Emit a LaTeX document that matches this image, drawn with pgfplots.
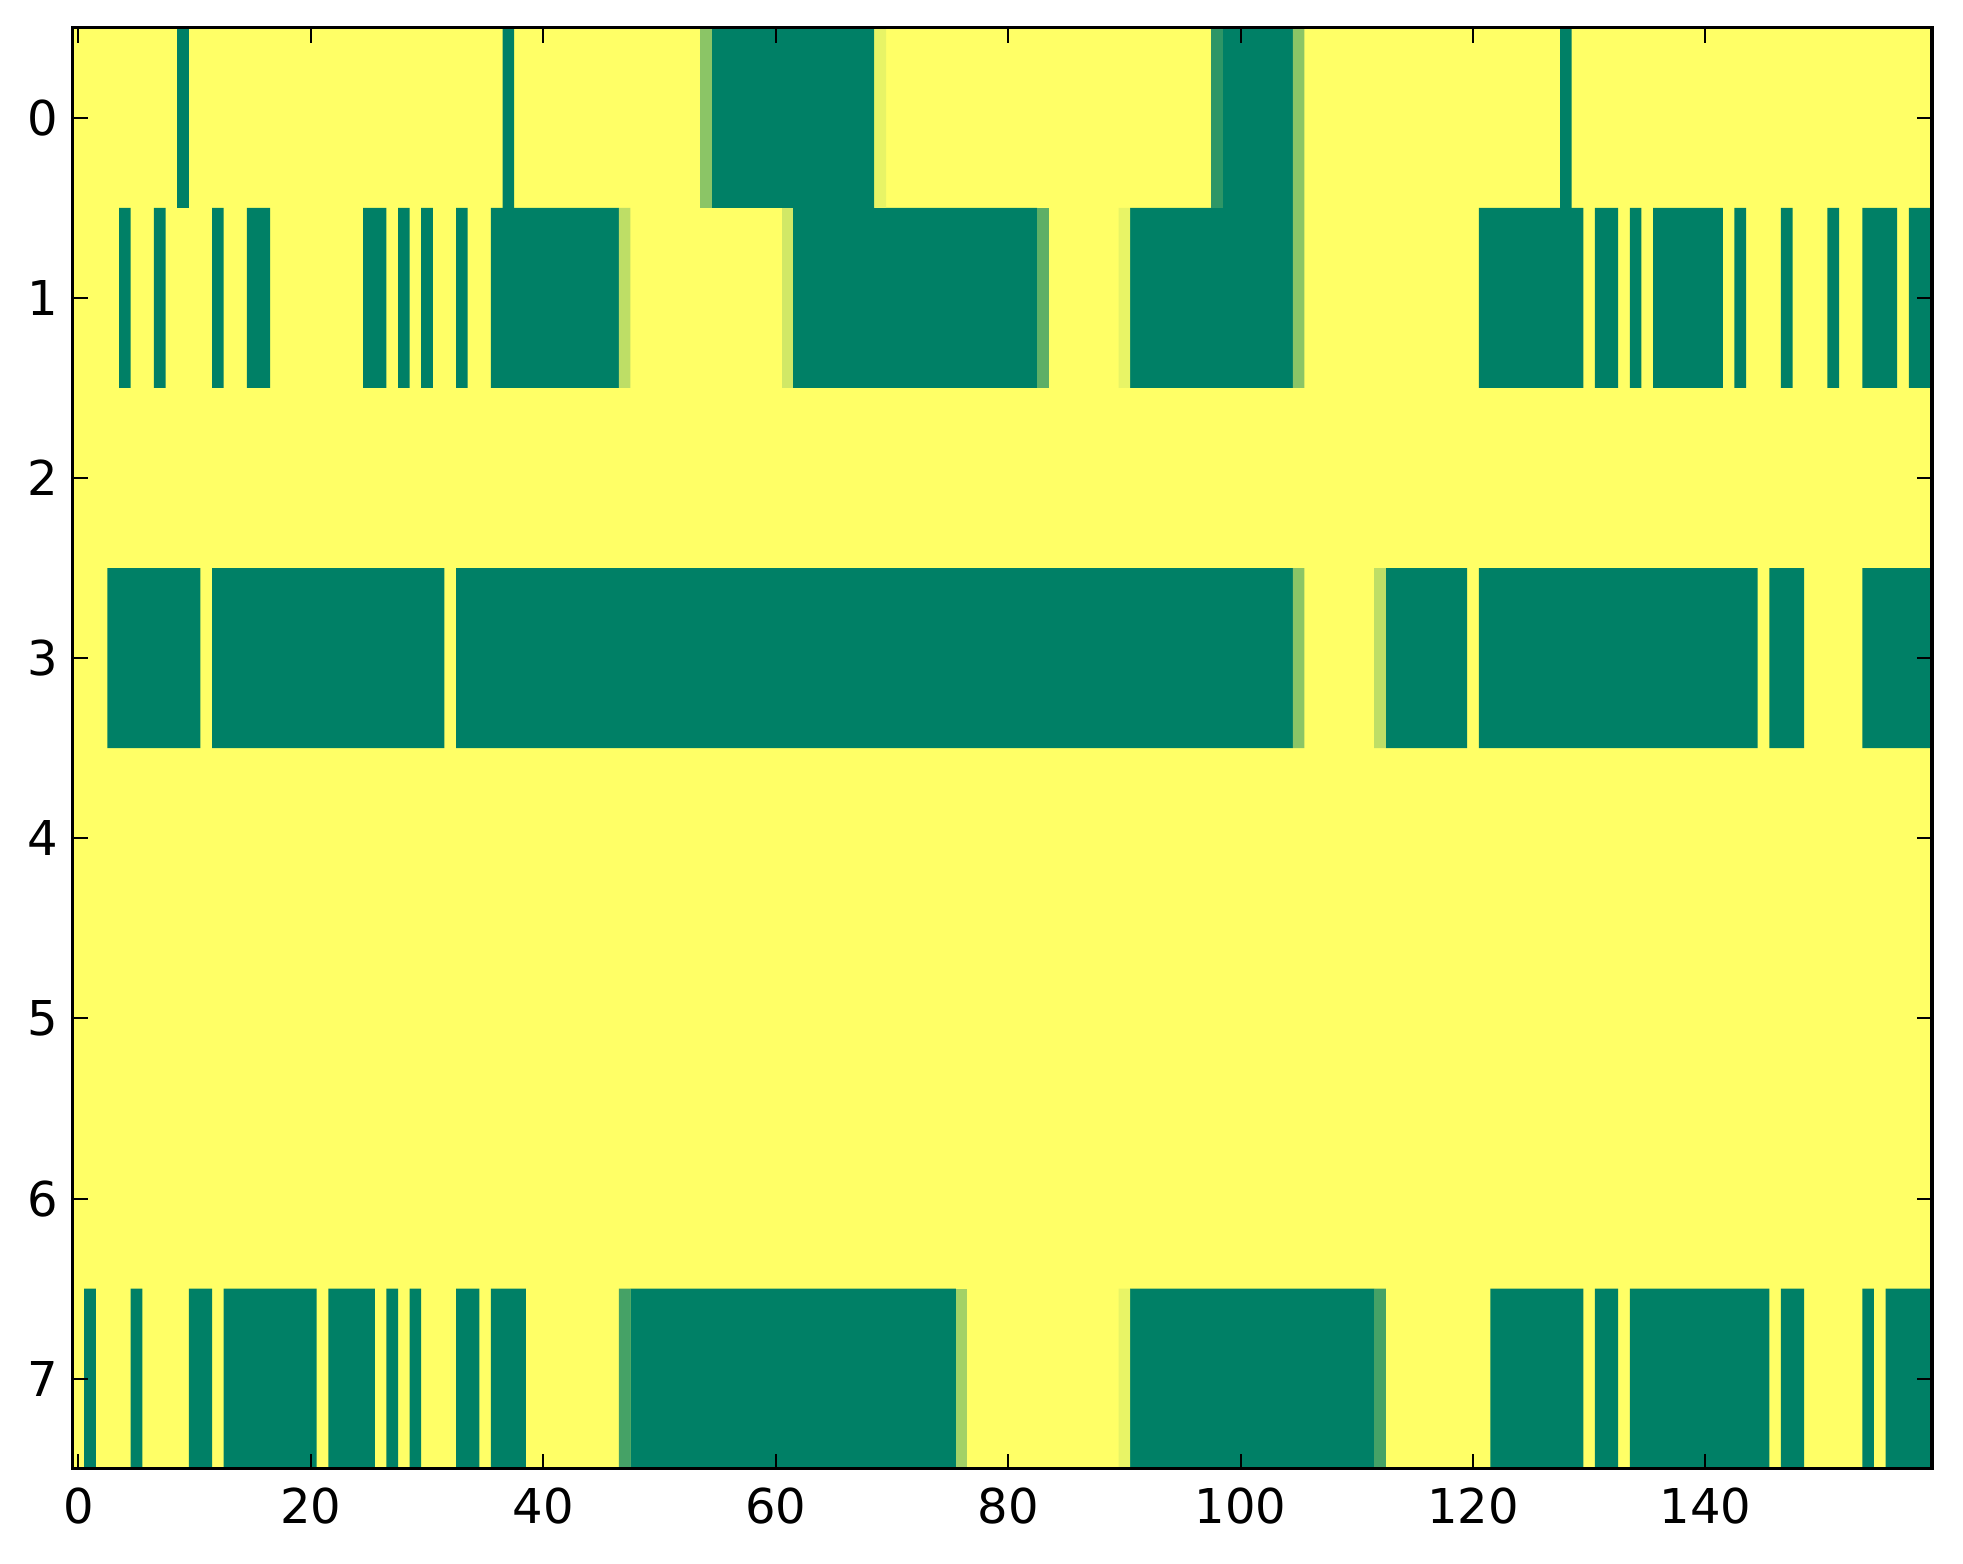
\documentclass[border=0pt]{standalone}
\usepackage{pgfplots}
\pgfplotsset{compat=1.18}
\usepackage{fontspec}
\setmainfont{DejaVu Sans}
\usetikzlibrary{calc}
\definecolor{sgreen}{rgb}{0,0.5,0.4}
\definecolor{syellow}{rgb}{1,1,0.4}
\colorlet{v18}{syellow!18!sgreen}
\colorlet{v27}{syellow!27!sgreen}
\colorlet{v37}{syellow!37!sgreen}
\colorlet{v545}{syellow!54.5!sgreen}
\colorlet{v64}{syellow!64!sgreen}
\colorlet{v745}{syellow!74.5!sgreen}
\colorlet{v82}{syellow!82!sgreen}
\colorlet{v91}{syellow!91!sgreen}
\begin{document}
\begin{tikzpicture}
\begin{axis}[
  name=ax,
  scale only axis, width=464.75pt, height=360.25pt,
  xmin=-0.5, xmax=159.5, ymin=-0.5, ymax=7.5, y dir=reverse,
  xtick={0,20,...,140}, ytick={0,1,...,7},
  tick align=inside, major tick length=3.75pt,
  axis line style={line width=0.8pt},
  tick style={line width=0.5pt, black},
  axis on top,
  ticklabel style={font=\fontsize{12}{14}\selectfont},
  xticklabel style={yshift=-1.25pt},
  /pgf/number format/assume math mode=true,
  unbounded coords=jump,
]
% value 1 (whole image extent)
\addplot[fill=syellow, draw=none, forget plot] coordinates {(-0.5,-0.5) (159.5,-0.5) (159.5,7.5) (-0.5,7.5)} --cycle;
% row 0, value 0
\addplot[fill=sgreen, draw=none, forget plot] coordinates {
(8.5,-0.5) (9.5,-0.5) (9.5,0.5) (8.5,0.5) (nan,nan)
(36.5,-0.5) (37.5,-0.5) (37.5,0.5) (36.5,0.5) (nan,nan)
(54.5,-0.5) (68.5,-0.5) (68.5,0.5) (54.5,0.5) (nan,nan)
(98.5,-0.5) (104.5,-0.5) (104.5,0.5) (98.5,0.5) (nan,nan)
(127.5,-0.5) (128.5,-0.5) (128.5,0.5) (127.5,0.5)
};
% row 1, value 0
\addplot[fill=sgreen, draw=none, forget plot] coordinates {
(3.5,0.5) (4.5,0.5) (4.5,1.5) (3.5,1.5) (nan,nan)
(6.5,0.5) (7.5,0.5) (7.5,1.5) (6.5,1.5) (nan,nan)
(11.5,0.5) (12.5,0.5) (12.5,1.5) (11.5,1.5) (nan,nan)
(14.5,0.5) (16.5,0.5) (16.5,1.5) (14.5,1.5) (nan,nan)
(24.5,0.5) (26.5,0.5) (26.5,1.5) (24.5,1.5) (nan,nan)
(27.5,0.5) (28.5,0.5) (28.5,1.5) (27.5,1.5) (nan,nan)
(29.5,0.5) (30.5,0.5) (30.5,1.5) (29.5,1.5) (nan,nan)
(32.5,0.5) (33.5,0.5) (33.5,1.5) (32.5,1.5) (nan,nan)
(35.5,0.5) (46.5,0.5) (46.5,1.5) (35.5,1.5) (nan,nan)
(61.5,0.5) (82.5,0.5) (82.5,1.5) (61.5,1.5) (nan,nan)
(90.5,0.5) (104.5,0.5) (104.5,1.5) (90.5,1.5) (nan,nan)
(120.5,0.5) (129.5,0.5) (129.5,1.5) (120.5,1.5) (nan,nan)
(130.5,0.5) (132.5,0.5) (132.5,1.5) (130.5,1.5) (nan,nan)
(133.5,0.5) (134.5,0.5) (134.5,1.5) (133.5,1.5) (nan,nan)
(135.5,0.5) (141.5,0.5) (141.5,1.5) (135.5,1.5) (nan,nan)
(142.5,0.5) (143.5,0.5) (143.5,1.5) (142.5,1.5) (nan,nan)
(146.5,0.5) (147.5,0.5) (147.5,1.5) (146.5,1.5) (nan,nan)
(150.5,0.5) (151.5,0.5) (151.5,1.5) (150.5,1.5) (nan,nan)
(153.5,0.5) (156.5,0.5) (156.5,1.5) (153.5,1.5) (nan,nan)
(157.5,0.5) (159.5,0.5) (159.5,1.5) (157.5,1.5)
};
% row 3, value 0
\addplot[fill=sgreen, draw=none, forget plot] coordinates {
(2.5,2.5) (10.5,2.5) (10.5,3.5) (2.5,3.5) (nan,nan)
(11.5,2.5) (31.5,2.5) (31.5,3.5) (11.5,3.5) (nan,nan)
(32.5,2.5) (104.5,2.5) (104.5,3.5) (32.5,3.5) (nan,nan)
(112.5,2.5) (119.5,2.5) (119.5,3.5) (112.5,3.5) (nan,nan)
(120.5,2.5) (144.5,2.5) (144.5,3.5) (120.5,3.5) (nan,nan)
(145.5,2.5) (148.5,2.5) (148.5,3.5) (145.5,3.5) (nan,nan)
(153.5,2.5) (159.5,2.5) (159.5,3.5) (153.5,3.5)
};
% row 7, value 0
\addplot[fill=sgreen, draw=none, forget plot] coordinates {
(0.5,6.5) (1.5,6.5) (1.5,7.5) (0.5,7.5) (nan,nan)
(4.5,6.5) (5.5,6.5) (5.5,7.5) (4.5,7.5) (nan,nan)
(9.5,6.5) (11.5,6.5) (11.5,7.5) (9.5,7.5) (nan,nan)
(12.5,6.5) (20.5,6.5) (20.5,7.5) (12.5,7.5) (nan,nan)
(21.5,6.5) (25.5,6.5) (25.5,7.5) (21.5,7.5) (nan,nan)
(26.5,6.5) (27.5,6.5) (27.5,7.5) (26.5,7.5) (nan,nan)
(28.5,6.5) (29.5,6.5) (29.5,7.5) (28.5,7.5) (nan,nan)
(32.5,6.5) (34.5,6.5) (34.5,7.5) (32.5,7.5) (nan,nan)
(35.5,6.5) (38.5,6.5) (38.5,7.5) (35.5,7.5) (nan,nan)
(47.5,6.5) (75.5,6.5) (75.5,7.5) (47.5,7.5) (nan,nan)
(90.5,6.5) (111.5,6.5) (111.5,7.5) (90.5,7.5) (nan,nan)
(121.5,6.5) (129.5,6.5) (129.5,7.5) (121.5,7.5) (nan,nan)
(130.5,6.5) (132.5,6.5) (132.5,7.5) (130.5,7.5) (nan,nan)
(133.5,6.5) (145.5,6.5) (145.5,7.5) (133.5,7.5) (nan,nan)
(146.5,6.5) (148.5,6.5) (148.5,7.5) (146.5,7.5) (nan,nan)
(153.5,6.5) (154.5,6.5) (154.5,7.5) (153.5,7.5) (nan,nan)
(155.5,6.5) (159.5,6.5) (159.5,7.5) (155.5,7.5)
};
% intermediate cells
\addplot[fill=v545, draw=none, forget plot] coordinates {
(53.5,-0.5) (54.5,-0.5) (54.5,0.5) (53.5,0.5) (nan,nan)
(104.5,-0.5) (105.5,-0.5) (105.5,0.5) (104.5,0.5) (nan,nan)
(104.5,0.5) (105.5,0.5) (105.5,1.5) (104.5,1.5) (nan,nan)
(104.5,2.5) (105.5,2.5) (105.5,3.5) (104.5,3.5)
};
\addplot[fill=v91, draw=none, forget plot] coordinates {
(68.5,-0.5) (69.5,-0.5) (69.5,0.5) (68.5,0.5) (nan,nan)
(89.5,0.5) (90.5,0.5) (90.5,1.5) (89.5,1.5) (nan,nan)
(89.5,6.5) (90.5,6.5) (90.5,7.5) (89.5,7.5)
};
\addplot[fill=v18, draw=none, forget plot] coordinates {
(97.5,-0.5) (98.5,-0.5) (98.5,0.5) (97.5,0.5)
};
\addplot[fill=v745, draw=none, forget plot] coordinates {
(46.5,0.5) (47.5,0.5) (47.5,1.5) (46.5,1.5) (nan,nan)
(111.5,2.5) (112.5,2.5) (112.5,3.5) (111.5,3.5)
};
\addplot[fill=v82, draw=none, forget plot] coordinates {
(60.5,0.5) (61.5,0.5) (61.5,1.5) (60.5,1.5)
};
\addplot[fill=v37, draw=none, forget plot] coordinates {
(82.5,0.5) (83.5,0.5) (83.5,1.5) (82.5,1.5)
};
\addplot[fill=v27, draw=none, forget plot] coordinates {
(46.5,6.5) (47.5,6.5) (47.5,7.5) (46.5,7.5) (nan,nan)
(111.5,6.5) (112.5,6.5) (112.5,7.5) (111.5,7.5)
};
\addplot[fill=v64, draw=none, forget plot] coordinates {
(75.5,6.5) (76.5,6.5) (76.5,7.5) (75.5,7.5)
};
\end{axis}
\path ($(ax.south west)+(-18.15pt,-23.75pt)$) rectangle ($(ax.north east)+(7.75pt,6.9pt)$);
\end{tikzpicture}
\end{document}
